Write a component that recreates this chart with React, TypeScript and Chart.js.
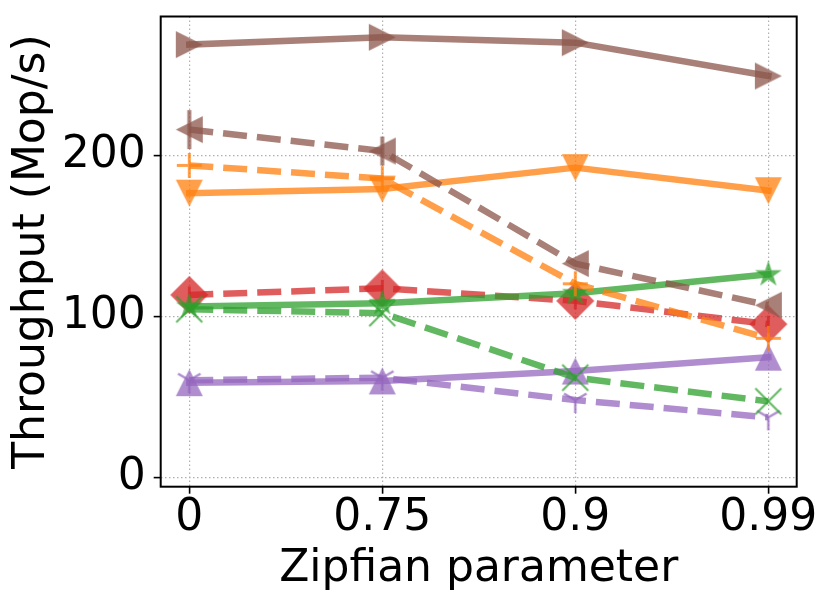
import React, { useEffect, useRef } from "react";
import { Chart, registerables } from "chart.js";

Chart.register(...registerables);

// x categories (plotted at evenly spaced positions)
const zipfLabels = ["0", "0.75", "0.9", "0.99"];
const yTicks = [0, 100, 200];

// throughput in Mop/s
const brownSolid = [268.6, 273.1, 269.8, 249.1];
const brownDashed = [215.9, 202.6, 132.8, 107];
const brownBars = [215.9, 202.6, null, null];
const orangeSolid = [176.5, 179, 192.3, 178];
const orangeDashed = [193.7, 185.5, 120.3, 86.5];
const redDashed = [113.4, 117.5, 109.7, 95.3];
const redDiamond = [113.4, 117.5, 109.7, 95.3];
const greenSolid = [106.2, 108.2, 114.4, 126.1];
const greenDashed = [104.5, 102.1, 62.1, 47.4];
const purpleSolid = [59, 60.1, 66.2, 74.8];
const purpleDashed = [60.5, 62.1, 48.2, 37.5];

const ALPHA = 0.75;
const rgba = (hex: string, a = ALPHA) => {
  const n = parseInt(hex.slice(1), 16);
  return `rgba(${(n >> 16) & 255},${(n >> 8) & 255},${n & 255},${a})`;
};

const BROWN = rgba("#8c564b");
const ORANGE = rgba("#ff7f0e");
const GREEN = rgba("#2ca02c");
const RED = rgba("#d62728");
const PURPLE = rgba("#9467bd");

const DASH = [24, 10];
const FONT = "'DejaVu Sans', sans-serif";

type Kind =
  | "triRight"
  | "triLeft"
  | "triDown"
  | "triUp"
  | "diamond"
  | "star"
  | "x"
  | "plus"
  | "tri1"
  | "vbar";

// draw a matplotlib-like marker into a small canvas
function marker(kind: Kind, color: string, size: number, lw = 2) {
  const w = Math.ceil(size + 8);
  const c = document.createElement("canvas");
  c.width = w;
  c.height = w;
  const ctx = c.getContext("2d")!;
  ctx.translate(w / 2, w / 2);
  ctx.fillStyle = color;
  ctx.strokeStyle = color;
  ctx.lineWidth = lw;
  const h = size / 2;
  const poly = (pts: number[][]) => {
    ctx.beginPath();
    pts.forEach(([x, y], i) => (i ? ctx.lineTo(x, y) : ctx.moveTo(x, y)));
    ctx.closePath();
    ctx.fill();
  };
  const lines = (segs: number[][]) => {
    ctx.beginPath();
    segs.forEach(([x1, y1, x2, y2]) => {
      ctx.moveTo(x1, y1);
      ctx.lineTo(x2, y2);
    });
    ctx.stroke();
  };
  switch (kind) {
    case "triRight":
      poly([[-h, -h], [h, 0], [-h, h]]);
      break;
    case "triLeft":
      poly([[h, -h], [-h, 0], [h, h]]);
      break;
    case "triDown":
      poly([[-h, -h], [h, -h], [0, h]]);
      break;
    case "triUp":
      poly([[0, -h], [h, h], [-h, h]]);
      break;
    case "diamond":
      poly([[0, -h], [h, 0], [0, h], [-h, 0]]);
      break;
    case "star": {
      const pts: number[][] = [];
      for (let i = 0; i < 10; i++) {
        const r = i % 2 === 0 ? h : h * 0.382;
        const a = -Math.PI / 2 + (i * Math.PI) / 5;
        pts.push([r * Math.cos(a), r * Math.sin(a)]);
      }
      poly(pts);
      break;
    }
    case "x":
      lines([[-h, -h, h, h], [-h, h, h, -h]]);
      break;
    case "plus":
      lines([[-h, 0, h, 0], [0, -h, 0, h]]);
      break;
    case "tri1":
      lines([
        [0, 0, 0, h],
        [0, 0, -h * 0.866, -h * 0.5],
        [0, 0, h * 0.866, -h * 0.5],
      ]);
      break;
    case "vbar":
      lines([[0, -h, 0, h]]);
      break;
  }
  return c;
}

const pts = (vals: (number | null)[]) => vals.map((y, i) => ({ x: i, y }));

const framePlugin = {
  id: "frame",
  afterDraw(chart: any) {
    const { ctx, chartArea: a } = chart;
    ctx.save();
    ctx.strokeStyle = "#000";
    ctx.lineWidth = 2;
    ctx.strokeRect(a.left, a.top, a.right - a.left, a.bottom - a.top);
    ctx.restore();
  },
};

export default function App() {
  const chartRef = useRef<HTMLCanvasElement | null>(null);

  useEffect(() => {
    if (!chartRef.current) return;

    const line = (
      data: (number | null)[],
      color: string,
      style: any,
      dashed: boolean,
      showLine = true
    ) => ({
      data: pts(data),
      borderColor: color,
      backgroundColor: color,
      borderWidth: 6.5,
      borderDash: dashed ? DASH : [],
      borderCapStyle: dashed ? "butt" : "square",
      borderJoinStyle: "round",
      showLine,
      pointStyle: style,
      pointRadius: 10,
      pointHoverRadius: 10,
      tension: 0,
      fill: false,
    });

    const chart = new Chart(chartRef.current, {
      type: "line",
      data: {
        datasets: [
          line(brownSolid, BROWN, marker("triRight", BROWN, 27), false),
          line(brownDashed, BROWN, marker("triLeft", BROWN, 27), true),
          line(
            brownBars,
            BROWN,
            [marker("vbar", BROWN, 39, 4), marker("vbar", BROWN, 29, 4)],
            false,
            false
          ),
          line(orangeDashed, ORANGE, marker("plus", ORANGE, 25, 3), true),
          line(orangeSolid, ORANGE, marker("triDown", ORANGE, 27), false),
          line(greenDashed, GREEN, marker("x", GREEN, 26, 2), true),
          line(greenSolid, GREEN, marker("star", GREEN, 28), false),
          line(redDashed, RED, marker("vbar", RED, 17, 3), true),
          line(redDiamond, RED, marker("diamond", RED, 38), false, false),
          line(purpleSolid, PURPLE, marker("triUp", PURPLE, 27), false),
          line(purpleDashed, PURPLE, marker("tri1", PURPLE, 26, 2.5), true),
        ] as any,
      },
      options: {
        animation: false,
        responsive: false,
        events: [],
        layout: { padding: { top: 12.7, right: 34.3, left: 0, bottom: 0 } },
        plugins: {
          legend: { display: false },
          tooltip: { enabled: false },
        },
        scales: {
          x: {
            type: "linear",
            min: -0.148,
            max: 3.147,
            afterBuildTicks: (scale: any) => {
              scale.ticks = zipfLabels.map((_, i) => ({ value: i }));
            },
            afterFit: (scale: any) => {
              scale.height = 119.3;
              scale.paddingLeft = 0;
              scale.paddingRight = 0;
            },
            ticks: {
              callback: (v: any) => zipfLabels[Math.round(Number(v))],
              color: "#000",
              padding: 3,
              maxRotation: 0,
              autoSkip: false,
              font: { family: FONT, size: 44, lineHeight: 1 },
            },
            grid: {
              color: "#b0b0b0",
              lineWidth: 1.2,
              tickLength: 7,
              tickColor: "#000",
              tickWidth: 1.6,
            },
            border: { display: false, dash: [1.5, 2.5] },
            title: {
              display: true,
              text: "Zipfian parameter",
              color: "#000",
              font: { family: FONT, size: 44, lineHeight: 1 },
              padding: { top: 0, bottom: 14 },
            },
          },
          y: {
            type: "linear",
            min: -5.5,
            max: 286,
            afterBuildTicks: (scale: any) => {
              scale.ticks = yTicks.map((v) => ({ value: v }));
            },
            afterFit: (scale: any) => {
              scale.width = 160.7;
              scale.paddingTop = 0;
              scale.paddingBottom = 0;
            },
            ticks: {
              color: "#000",
              padding: 8,
              font: { family: FONT, size: 44, lineHeight: 1 },
            },
            grid: {
              color: "#b0b0b0",
              lineWidth: 1.2,
              tickLength: 7,
              tickColor: "#000",
              tickWidth: 1.6,
            },
            border: { display: false, dash: [1.5, 2.5] },
            title: {
              display: true,
              text: "Throughput (Mop/s)",
              color: "#000",
              font: { family: FONT, size: 44, lineHeight: 1 },
              padding: { top: 11, bottom: 0 },
            },
          },
        },
      } as any,
      plugins: [framePlugin],
    });

    return () => {
      chart.destroy();
    };
  }, []);

  return (
    <div
      style={{
        position: "absolute",
        left: 0,
        top: 0,
        width: 831,
        height: 606,
        background: "#fff",
      }}
    >
      <canvas
        ref={chartRef}
        width={831}
        height={606}
        style={{ display: "block", width: 831, height: 606 }}
      />
    </div>
  );
}
